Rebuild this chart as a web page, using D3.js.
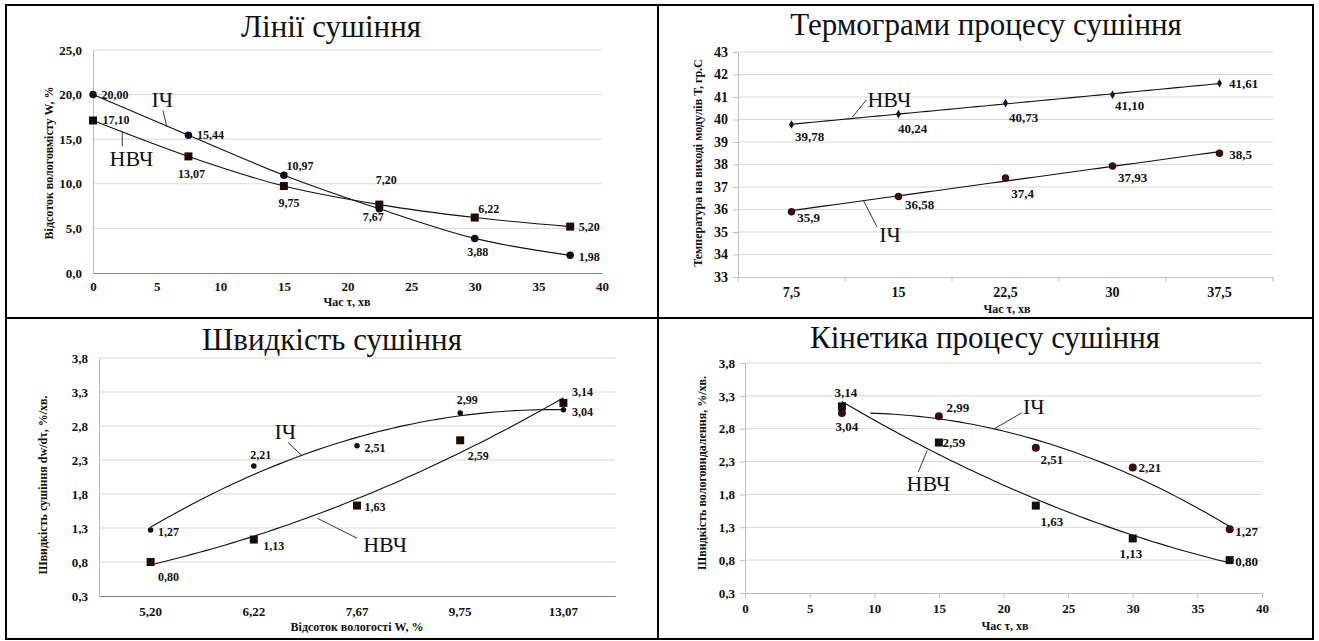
<!DOCTYPE html>
<html>
<head>
<meta charset="utf-8">
<script src="https://cdn.jsdelivr.net/npm/d3@7"></script>
<style>
  body { margin: 0; background: #fff; }
  svg text { font-family: "Liberation Serif", "DejaVu Serif", serif; }
</style>
</head>
<body>
<svg id="chart" width="1319" height="641" font-family="Liberation Serif, DejaVu Serif, serif"></svg>
<script>
// --- data ---
const dryTime = [0, 7.5, 15, 22.5, 30, 37.5];
const dryIR = [20.0, 15.44, 10.97, 7.2, 3.88, 1.98];
const dryMW = [17.1, 13.07, 9.75, 7.67, 6.22, 5.2];

const thermoCats = ["7,5", "15", "22,5", "30", "37,5"];
const thermoMW = [39.78, 40.24, 40.73, 41.1, 41.61];
const thermoIR = [35.9, 36.58, 37.4, 37.93, 38.5];

const moistCats = ["5,20", "6,22", "7,67", "9,75", "13,07"];
const rateIR = [1.27, 2.21, 2.51, 2.99, 3.04];
const rateMW = [0.8, 1.13, 1.63, 2.59, 3.14];

const kinTime = [7.5, 15, 22.5, 30, 37.5];
const kinIR = [3.04, 2.99, 2.51, 2.21, 1.27];
const kinMW = [3.14, 2.59, 1.63, 1.13, 0.8];

const rateTicks = [0.3, 0.8, 1.3, 1.8, 2.3, 2.8, 3.3, 3.8];

// label offsets (px) from each point, [dx, dy]
const offDryIR = [[22, 0], [22, 0], [16, -9], [7, -29], [3, 13], [19, 1]];
const offDryMW = [[23, -1], [3, 17], [5, 17], [-6, 12], [14, -9], [19, 0]];
const offThMW = [[18, 12], [14, 14], [18, 14], [17, 11], [24, 0]];
const offThIR = [[17, 6], [21, 8], [17, 15], [20, 11], [21, 1]];
const offRateIR = [[18, 2], [7, -11], [18, 2], [7, -13], [19, 2]];
const offRateMW = [[18, 15], [20, 6], [18, 1], [18, 16], [19, -11]];
const offKinMW = [[4, -14], [15, 0], [16, 16], [-2, 15], [17, 1]];
const offKinIR = [[5, 14], [19, -9], [16, 12], [17, 0], [17, 2]];

const SERIF = "Liberation Serif, DejaVu Serif, serif";
const svg = d3.select("#chart");
const comma = (s) => String(s).replace(".", ",");
const f1 = (v) => comma(d3.format(".1f")(v));
const f2 = (v) => comma(v.toFixed(2));

// least squares polynomial, Excel-style trendline
function polyfit(xs, ys, deg) {
  const n = deg + 1;
  const A = d3.range(n).map((i) => d3.range(n).map((j) => d3.sum(xs, (x) => x ** (i + j))));
  const b = d3.range(n).map((i) => d3.sum(xs, (x, k) => ys[k] * x ** i));
  for (let c = 0; c < n; c++) {
    for (let r = c + 1; r < n; r++) {
      const f = A[r][c] / A[c][c];
      for (let k = c; k < n; k++) A[r][k] -= f * A[c][k];
      b[r] -= f * b[c];
    }
  }
  const coef = new Array(n).fill(0);
  for (let r = n - 1; r >= 0; r--) {
    let s = b[r];
    for (let k = r + 1; k < n; k++) s -= A[r][k] * coef[k];
    coef[r] = s / A[r][r];
  }
  return coef;
}

function trend(xs, ys, deg, from, to) {
  const c = polyfit(xs, ys, deg);
  return d3.range(61).map((k) => {
    const x = from + ((to - from) * k) / 60;
    return [x, d3.sum(c, (ci, i) => ci * x ** i)];
  });
}

function styleAxis(g, color, size) {
  g.attr("font-family", SERIF).attr("font-size", null);
  g.select(".domain").attr("stroke", color);
  g.selectAll(".tick line").attr("stroke", color);
  g.selectAll(".tick text")
    .attr("fill", "#111")
    .attr("font-size", size)
    .attr("font-weight", "bold");
}

function grid(y, ticks, x0, x1) {
  svg
    .append("g")
    .selectAll("line")
    .data(ticks)
    .join("line")
    .attr("x1", x0)
    .attr("x2", x1)
    .attr("y1", (d) => y(d))
    .attr("y2", (d) => y(d))
    .attr("stroke", "#d9d9d9");
}

function title(text, x, y) {
  svg.append("text").attr("x", x).attr("y", y).attr("text-anchor", "middle")
    .attr("font-size", 31).attr("fill", "#111").text(text);
}

function axisTitle(text, x, y, rotate) {
  svg.append("text")
    .attr("transform", `translate(${x},${y})` + (rotate ? " rotate(-90)" : ""))
    .attr("text-anchor", "middle").attr("font-size", 12).attr("font-weight", "bold")
    .attr("fill", "#111").text(text);
}

function curve(points, x, y, curveType) {
  svg.append("path")
    .datum(points)
    .attr("fill", "none")
    .attr("stroke", "#111")
    .attr("stroke-width", 1.1)
    .attr("d", d3.line().x((d) => x(d[0])).y((d) => y(d[1])).curve(curveType || d3.curveLinear));
}

function markers(xs, ys, x, y, kind, size, color) {
  const g = svg.append("g").attr("fill", color);
  const pts = xs.map((v, i) => [v, ys[i]]);
  if (kind === "square") {
    g.selectAll("rect").data(pts).join("rect")
      .attr("x", (d) => x(d[0]) - size / 2).attr("y", (d) => y(d[1]) - size / 2)
      .attr("width", size).attr("height", size);
  } else if (kind === "circle") {
    g.selectAll("circle").data(pts).join("circle")
      .attr("cx", (d) => x(d[0])).attr("cy", (d) => y(d[1])).attr("r", size / 2);
  } else {
    g.selectAll("path").data(pts).join("path")
      .attr("transform", (d) => `translate(${x(d[0])},${y(d[1])})`)
      .attr("d", d3.symbol(d3.symbolDiamond, size * size * 0.6));
  }
}

function labels(xs, ys, x, y, offs, fmt, size) {
  svg.append("g").selectAll("text").data(xs).join("text")
    .attr("x", (d, i) => x(d) + offs[i][0])
    .attr("y", (d, i) => y(ys[i]) + offs[i][1])
    .attr("dy", "0.35em").attr("text-anchor", "middle")
    .attr("font-size", size).attr("font-weight", "bold").attr("fill", "#111")
    .text((d, i) => fmt(ys[i]));
}

// series name with a leader line, all in data units
function seriesName(text, x, y, at, from, to) {
  svg.append("line")
    .attr("x1", x(from[0])).attr("y1", y(from[1]))
    .attr("x2", x(to[0])).attr("y2", y(to[1]))
    .attr("stroke", "#222").attr("stroke-width", 0.9);
  svg.append("text").attr("x", x(at[0])).attr("y", y(at[1]))
    .attr("font-size", 22).attr("fill", "#111").text(text);
}

// --- panel 1: drying lines ---
{
  const x = d3.scaleLinear().domain([0, 40]).range([93, 602]);
  const y = d3.scaleLinear().domain([0, 25]).range([273, 50]);
  grid(y, [5, 10, 15, 20, 25], 93, 602);
  svg.append("g").attr("transform", "translate(93,0)")
    .call(d3.axisLeft(y).tickValues([0, 5, 10, 15, 20, 25]).tickFormat(f1).tickSize(0).tickPadding(11))
    .call((g) => styleAxis(g, "#bfbfbf", 13));
  svg.append("g").attr("transform", "translate(0,273)")
    .call(d3.axisBottom(x).ticks(8).tickSize(0).tickPadding(9))
    .call((g) => styleAxis(g, "#808080", 13));
  curve(dryTime.map((t, i) => [t, dryIR[i]]), x, y, d3.curveMonotoneX);
  curve(dryTime.map((t, i) => [t, dryMW[i]]), x, y, d3.curveMonotoneX);
  markers(dryTime, dryIR, x, y, "circle", 7.5, "#0c0c22");
  markers(dryTime, dryMW, x, y, "square", 8, "#1f0a05");
  labels(dryTime, dryIR, x, y, offDryIR, f2, 12);
  labels(dryTime, dryMW, x, y, offDryMW, f2, 12);
  seriesName("ІЧ", x, y, [4.6, 18.6], [5.5, 18.2], [5.8, 16.4]);
  seriesName("НВЧ", x, y, [1.3, 12.0], [2.3, 15.8], [2.3, 14.2]);
  title("Лінії сушіння", 331, 37);
  axisTitle("Відсоток вологовмісту W, %", 53, 163, true);
  axisTitle("Час τ, хв", 347, 306, false);
}

// --- panel 2: thermograms ---
{
  const band = d3.scaleBand().domain(thermoCats).range([738, 1273]);
  const x = d3.scaleLinear().domain([-0.5, 4.5]).range([738, 1273]);
  const y = d3.scaleLinear().domain([33, 43]).range([277, 52]);
  const idx = thermoCats.map((c, i) => i);
  grid(y, d3.range(34, 44), 738, 1273);
  svg.append("g").attr("transform", "translate(738,0)")
    .call(d3.axisLeft(y).tickValues(d3.range(33, 44)).tickSize(5).tickPadding(5).tickSizeOuter(0))
    .call((g) => styleAxis(g, "#bfbfbf", 14));
  svg.append("g").attr("transform", "translate(0,277)")
    .call(d3.axisBottom(band).tickSize(0).tickPadding(10))
    .call((g) => styleAxis(g, "#bfbfbf", 14));
  svg.append("g").selectAll("line").data(d3.range(6)).join("line")
    .attr("x1", (d) => x(d - 0.5)).attr("x2", (d) => x(d - 0.5))
    .attr("y1", 277).attr("y2", 282).attr("stroke", "#bfbfbf");
  curve(trend(idx, thermoMW, 1, 0, 4), x, y);
  curve(trend(idx, thermoIR, 1, 0, 4), x, y);
  markers(idx, thermoMW, x, y, "diamond", 6, "#141430");
  markers(idx, thermoIR, x, y, "circle", 7.5, "#3a0e0e");
  labels(idx, thermoMW, x, y, offThMW, f2, 13);
  labels(idx, thermoIR, x, y, offThIR, comma, 13);
  seriesName("НВЧ", x, y, [0.71, 40.56], [0.57, 40.11], [0.7, 40.87]);
  seriesName("ІЧ", x, y, [0.82, 34.56], [0.67, 36.42], [0.8, 35.22]);
  title("Термограми процесу сушіння", 986, 35);
  axisTitle("Температура на виході модулів  Т, гр.С", 702, 163, true);
  axisTitle("Час τ, хв", 1007, 313, false);
}

// --- panel 3: drying rate vs moisture ---
{
  const band = d3.scaleBand().domain(moistCats).range([99, 615]);
  const x = d3.scaleLinear().domain([-0.5, 4.5]).range([99, 615]);
  const y = d3.scaleLinear().domain([0.3, 3.8]).range([596, 358]);
  const idx = moistCats.map((c, i) => i);
  grid(y, rateTicks.slice(1), 99, 615);
  svg.append("g").attr("transform", "translate(99,0)")
    .call(d3.axisLeft(y).tickValues(rateTicks).tickFormat(f1).tickSize(0).tickPadding(11))
    .call((g) => styleAxis(g, "#bfbfbf", 13));
  svg.append("g").attr("transform", "translate(0,596)")
    .call(d3.axisBottom(band).tickSize(0).tickPadding(11))
    .call((g) => styleAxis(g, "#808080", 13));
  curve(trend(idx, rateIR, 2, 0, 4), x, y, d3.curveBasis);
  curve(trend(idx, rateMW, 2, 0, 4), x, y, d3.curveBasis);
  markers(idx, rateIR, x, y, "circle", 5.5, "#0c0c22");
  markers(idx, rateMW, x, y, "square", 8, "#1f0a05");
  labels(idx, rateIR, x, y, offRateIR, f2, 12);
  labels(idx, rateMW, x, y, offRateMW, f2, 12);
  seriesName("ІЧ", x, y, [1.2, 2.61], [1.33, 2.56], [1.47, 2.36]);
  seriesName("НВЧ", x, y, [2.06, 0.95], [1.62, 1.44], [2.0, 1.15]);
  title("Швидкість сушіння", 332, 350);
  axisTitle("Швидкість сушіння  dw/dτ, %/хв.", 47, 485, true);
  axisTitle("Відсоток вологості W, %", 357, 631, false);
}

// --- panel 4: kinetics ---
{
  const x = d3.scaleLinear().domain([0, 40]).range([745, 1262]);
  const y = d3.scaleLinear().domain([0.3, 3.8]).range([593, 363]);
  grid(y, rateTicks.slice(1), 745, 1262);
  svg.append("g").attr("transform", "translate(745,0)")
    .call(d3.axisLeft(y).tickValues(rateTicks).tickFormat(f1).tickSize(5).tickPadding(5).tickSizeOuter(0))
    .call((g) => styleAxis(g, "#bfbfbf", 13));
  svg.append("g").attr("transform", "translate(0,593)")
    .call(d3.axisBottom(x).ticks(8).tickSize(5).tickPadding(6).tickSizeOuter(0))
    .call((g) => styleAxis(g, "#bfbfbf", 13));
  curve(trend(kinTime, kinIR, 2, 9.7, 37.5), x, y);
  curve(trend(kinTime, kinMW, 2, 7.5, 37.5), x, y);
  markers(kinTime, kinIR, x, y, "circle", 8, "#3a0e0e");
  markers(kinTime, kinMW, x, y, "square", 8, "#111");
  labels(kinTime, kinMW, x, y, offKinMW, f2, 13);
  labels(kinTime, kinIR, x, y, offKinIR, f2, 13);
  seriesName("НВЧ", x, y, [12.5, 1.85], [13.4, 2.14], [14.1, 2.47]);
  seriesName("ІЧ", x, y, [21.5, 3.02], [19.3, 2.8], [21.4, 3.04]);
  title("Кінетика процесу сушіння", 985, 348);
  axisTitle("Швидкість вологовидалення, %/хв.", 706, 473, true);
  axisTitle("Час τ, хв", 1005, 630, false);
}

// table frame
const frame = svg.append("g").attr("stroke", "#000").attr("stroke-width", 2).attr("fill", "none");
frame.append("rect").attr("x", 6).attr("y", 5).attr("width", 1307).attr("height", 634);
frame.append("line").attr("x1", 658).attr("x2", 658).attr("y1", 5).attr("y2", 639);
frame.append("line").attr("x1", 6).attr("x2", 1313).attr("y1", 318).attr("y2", 318);
</script>
</body>
</html>
